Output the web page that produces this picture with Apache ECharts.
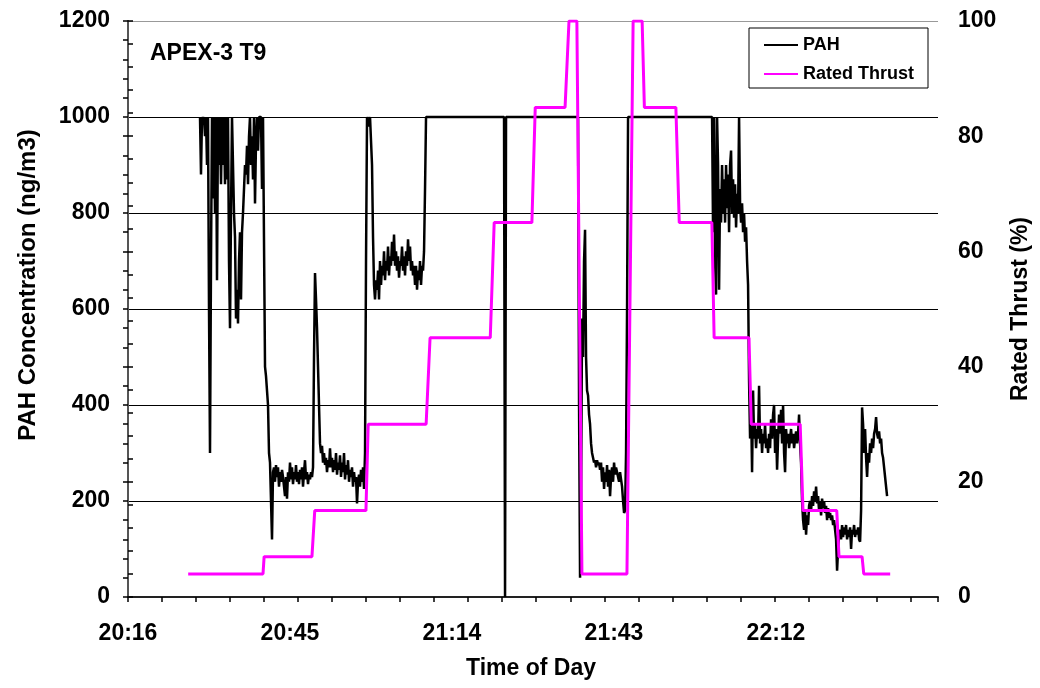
<!DOCTYPE html>
<html><head><meta charset="utf-8">
<script src="https://cdn.jsdelivr.net/npm/echarts@6/dist/echarts.min.js"></script>
<style>html,body{margin:0;padding:0;background:#fff}#c{width:1040px;height:688px}</style>
</head><body><div id="c"></div>
<script>
// ---- Data (times are minutes after 20:00) ----
const axisStartMin = 16.8;          // 20:16:48, left edge of time axis
const axisSpanMin = 144;            // 20:16:48 .. 22:40:48
const xMajorStep = 28.8;            // label step
const xMinorStep = 6.048;           // small tick step
const xTickLabels = ['20:16', '20:45', '21:14', '21:43', '22:12', ''];

const pahStartMin = 29.6;           // first PAH sample 20:29:36
const pahStepMin = 0.1778;          // sample interval (~10.7 s)
const pahValues = [
  1000,880,1000,990,1000,960,1000,900,1000,600,
  300,700,1000,830,1000,800,1000,660,1000,900,
  1000,860,1000,900,1000,860,1000,870,1000,700,
  560,800,1000,1000,800,750,580,640,570,700,
  760,620,760,800,850,900,880,940,860,960,
  1000,900,960,870,1000,820,950,1000,930,1000,
  1000,1000,850,1000,1000,480,460,430,400,300,
  280,200,120,260,270,240,275,250,270,230,
  260,240,265,250,230,210,250,205,260,240,
  280,245,270,235,260,245,275,240,260,235,
  265,245,270,230,260,285,245,260,235,255,
  245,260,250,270,500,675,620,560,480,400,
  320,300,315,280,300,275,290,260,285,270,
  310,270,290,260,285,265,300,255,280,265,
  295,250,280,260,300,245,275,255,285,240,
  265,250,270,230,260,240,250,195,240,255,
  230,265,240,270,225,300,700,1000,1000,980,
  1000,1000,900,750,650,620,660,640,680,620,
  700,650,690,670,720,660,700,680,730,670,
  710,690,740,700,755,690,720,680,710,665,
  700,690,730,680,710,670,720,690,745,700,
  730,680,700,670,690,650,690,640,680,660,
  700,650,690,680,720,850,1000,1000,1000,1000,
  1000,1000,1000,1000,1000,1000,1000,1000,1000,1000,
  1000,1000,1000,1000,1000,1000,1000,1000,1000,1000,
  1000,1000,1000,1000,1000,1000,1000,1000,1000,1000,
  1000,1000,1000,1000,1000,1000,1000,1000,1000,1000,
  1000,1000,1000,1000,1000,1000,1000,1000,1000,1000,
  1000,1000,1000,1000,1000,1000,1000,1000,1000,1000,
  1000,1000,1000,1000,1000,1000,1000,1000,1000,1000,
  1000,1000,1000,1000,1000,0,1000,1000,1000,1000,
  1000,1000,1000,1000,1000,1000,1000,1000,1000,1000,
  1000,1000,1000,1000,1000,1000,1000,1000,1000,1000,
  1000,1000,1000,1000,1000,1000,1000,1000,1000,1000,
  1000,1000,1000,1000,1000,1000,1000,1000,1000,1000,
  1000,1000,1000,1000,1000,1000,1000,1000,1000,1000,
  1000,1000,1000,1000,1000,1000,1000,1000,1000,1000,
  1000,1000,1000,1000,1000,1000,1000,1000,1000,400,
  40,200,580,500,700,765,500,430,420,380,
  360,320,300,290,280,285,270,285,275,280,
  265,280,240,270,225,260,240,275,230,265,
  210,250,270,240,280,255,270,260,250,240,
  260,245,230,200,175,180,300,600,1000,1000,
  1000,1000,1000,1000,1000,1000,1000,1000,1000,1000,
  1000,1000,1000,1000,1000,1000,1000,1000,1000,1000,
  1000,1000,1000,1000,1000,1000,1000,1000,1000,1000,
  1000,1000,1000,1000,1000,1000,1000,1000,1000,1000,
  1000,1000,1000,1000,1000,1000,1000,1000,1000,1000,
  1000,1000,1000,1000,1000,1000,1000,1000,1000,1000,
  1000,1000,1000,1000,1000,1000,1000,1000,1000,1000,
  1000,1000,1000,1000,1000,1000,1000,1000,1000,1000,
  1000,1000,1000,760,1000,700,630,1000,900,640,
  850,780,900,800,870,780,900,810,880,760,
  900,930,800,870,790,860,770,840,800,1000,
  820,780,820,760,800,740,770,700,650,450,
  330,400,260,430,330,360,310,350,330,440,
  320,350,300,340,320,360,310,330,300,340,
  310,370,330,380,400,300,350,265,330,380,
  340,390,320,400,300,260,350,320,340,310,
  330,350,320,340,310,330,345,320,340,380,
  320,280,200,160,140,180,130,170,150,190,
  200,180,210,190,220,200,230,195,210,180,
  200,170,205,185,200,175,190,160,185,165,
  175,160,170,150,160,140,120,55,100,130,
  140,120,150,125,145,130,150,120,140,125,
  145,100,140,130,150,125,140,130,145,120,
  115,180,395,360,300,350,290,250,300,280,
  320,300,330,310,340,350,375,340,330,345,
  320,330,300,290,270,250,230,210
];

const thrustTimes = [27.5, 40.8, 41.0, 49.5, 50.0, 59.1, 59.5, 69.8, 70.5, 81.2, 81.9, 88.6,
  89.2, 94.5, 95.2, 96.6, 97.5, 105.5, 106.6, 108.2, 108.6, 114.2, 114.8, 120.6, 121.0,
  127.2, 127.6, 136.3, 136.8, 142.8, 143.2, 147.3, 147.6, 152.3];
const thrustPct = [4, 4, 7, 7, 15, 15, 30, 30, 45, 45, 65, 65,
  85, 85, 100, 100, 4, 4, 100, 100, 85, 85, 65, 65, 45,
  45, 30, 30, 15, 15, 7, 7, 4, 4];

// ---- Build series data ----
const pahData = pahValues.map((v, i) => [pahStartMin - axisStartMin + i * pahStepMin, v]);
const thrustData = thrustTimes.map((t, i) => [t - axisStartMin, thrustPct[i]]);

const labelFont = { fontFamily: 'Liberation Sans', fontWeight: 'bold', fontSize: 23, color: '#000' };
const plain = v => String(v);

const chart = echarts.init(document.getElementById('c'), null, { renderer: 'canvas' });
chart.setOption({
  animation: false,
  backgroundColor: '#fff',
  grid: { left: 128, right: 102, top: 21, bottom: 91, containLabel: false, outerBoundsMode: 'none' },
  legend: {
    orient: 'vertical', left: 749, top: 28,
    data: [{ name: 'PAH', icon: 'rect' }, { name: 'Rated Thrust', icon: 'rect' }],
    borderColor: '#000', borderWidth: 1, borderRadius: 0,
    padding: [7, 14, 4, 15], itemGap: 9, itemWidth: 34, itemHeight: 2,
    textStyle: { fontFamily: 'Liberation Sans', fontWeight: 'bold', fontSize: 18, color: '#000', lineHeight: 20 }
  },
  xAxis: [{
    type: 'value', min: 0, max: axisSpanMin, interval: xMajorStep,
    axisLine: { show: true, lineStyle: { color: '#222', width: 2 } },
    axisTick: { show: false },
    axisLabel: Object.assign({ margin: 25, showMaxLabel: true,
      formatter: v => xTickLabels[Math.round(v / xMajorStep)] || '' }, labelFont),
    splitLine: { show: false }
  }, {
    type: 'value', min: 0, max: axisSpanMin, interval: xMinorStep, position: 'bottom',
    axisLine: { show: false },
    axisTick: { show: true, length: 5, lineStyle: { color: '#000', width: 1.5 } },
    axisLabel: { show: false },
    splitLine: { show: false }
  }],
  yAxis: [{
    type: 'value', min: 0, max: 1200, interval: 200, position: 'left',
    axisLine: { show: true, lineStyle: { color: '#000', width: 1.5 } },
    axisTick: { show: true, length: 5, lineStyle: { color: '#000', width: 1.5 } },
    minorTick: { show: true, splitNumber: 5, length: 5, lineStyle: { color: '#000', width: 1.5 } },
    axisLabel: Object.assign({ margin: 18, formatter: plain }, labelFont),
    splitLine: { show: true, lineStyle: { color: ['#000', '#000', '#000', '#000', '#000', '#000', '#999'], width: 1 } }
  }, {
    type: 'value', min: 0, max: 100, interval: 20, position: 'right',
    axisLine: { show: true, lineStyle: { color: '#555', width: 2 } },
    axisTick: { show: true, length: 5, lineStyle: { color: '#000', width: 1.5 } },
    minorTick: { show: true, splitNumber: 5, length: 5, lineStyle: { color: '#000', width: 1.5 } },
    axisLabel: Object.assign({ margin: 20, formatter: plain }, labelFont),
    splitLine: { show: false }
  }],
  graphic: [
    { type: 'text', x: 150, y: 53.5, style: { text: 'APEX-3 T9', fill: '#000', fontFamily: 'Liberation Sans', fontWeight: 'bold', fontSize: 23, align: 'left', verticalAlign: 'middle' } },
    { type: 'text', x: 531, y: 668.5, style: { text: 'Time of Day', fill: '#000', fontFamily: 'Liberation Sans', fontWeight: 'bold', fontSize: 23, align: 'center', verticalAlign: 'middle' } },
    { type: 'text', x: 28, y: 285, rotation: Math.PI / 2, style: { text: 'PAH Concentration (ng/m3)', fill: '#000', fontFamily: 'Liberation Sans', fontWeight: 'bold', fontSize: 24, align: 'center', verticalAlign: 'middle' } },
    { type: 'text', x: 1021, y: 309, rotation: Math.PI / 2, style: { text: 'Rated Thrust (%)', fill: '#000', fontFamily: 'Liberation Sans', fontWeight: 'bold', fontSize: 23, align: 'center', verticalAlign: 'middle' } }
  ],
  series: [{
    name: 'PAH', type: 'line', xAxisIndex: 0, yAxisIndex: 0, data: pahData,
    symbol: 'none', showSymbol: false, color: '#000',
    lineStyle: { color: '#000', width: 2.5 }
  }, {
    name: 'Rated Thrust', type: 'line', xAxisIndex: 0, yAxisIndex: 1, data: thrustData,
    symbol: 'none', showSymbol: false, color: '#FF00FF',
    lineStyle: { color: '#FF00FF', width: 3 }
  }]
});
</script></body></html>
